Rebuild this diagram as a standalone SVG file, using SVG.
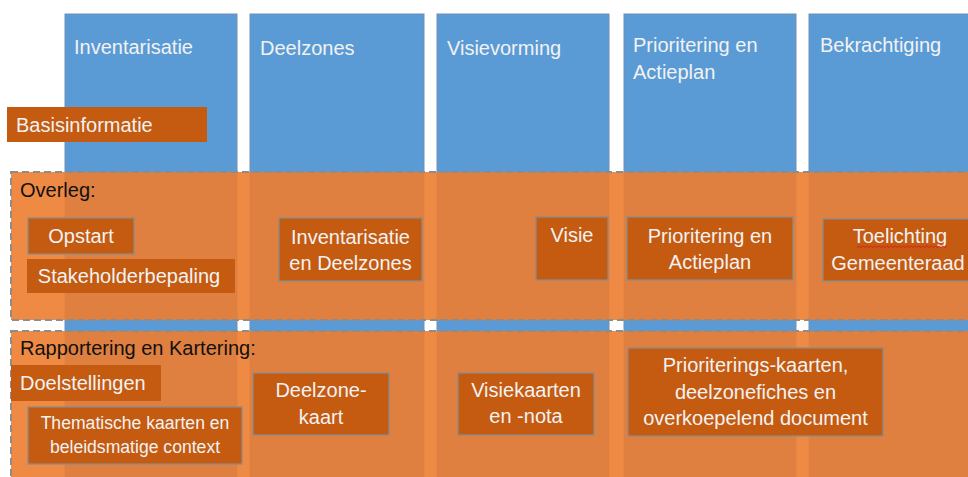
<svg xmlns="http://www.w3.org/2000/svg" width="968" height="477" viewBox="0 0 968 477">
<style>
  text { font-family: "Liberation Sans", Arial, sans-serif; font-size: 20px; }
  .col { fill: #5B9BD5; stroke: #6E8FB4; stroke-width: 1; }
  .hdr { fill: #F2F2F2; }
  .band { fill: #ED7D31; fill-opacity: 0.9; stroke: #8C8C8C; stroke-width: 2; stroke-dasharray: 7 4; }
  .lbl { fill: #111111; }
  .box { fill: #C55A11; stroke: #8C8C8C; stroke-width: 1.3; }
  .boxn { fill: #C55A11; }
  .bt { fill: #F2F2F2; }
  .c { text-anchor: middle; }
  .sm { font-size: 17.6px; }
</style>
<rect width="968" height="477" fill="#FFFFFF"/>

<g id="phases">
  <g id="phase-inventarisatie">
    <rect class="col" x="65" y="14" width="172" height="470"/>
    <text class="hdr" x="74" y="54">Inventarisatie</text>
  </g>
  <g id="phase-deelzones">
    <rect class="col" x="250" y="14" width="174" height="470"/>
    <text class="hdr" x="260" y="55">Deelzones</text>
  </g>
  <g id="phase-visievorming">
    <rect class="col" x="437" y="14" width="172" height="470"/>
    <text class="hdr" x="447" y="55">Visievorming</text>
  </g>
  <g id="phase-prioritering">
    <rect class="col" x="624" y="14" width="172" height="470"/>
    <text class="hdr" x="633" y="52">Prioritering en</text>
    <text class="hdr" x="633" y="79">Actieplan</text>
  </g>
  <g id="phase-bekrachtiging">
    <rect class="col" x="809" y="14" width="175" height="470"/>
    <text class="hdr" x="820" y="52">Bekrachtiging</text>
  </g>
</g>

<g id="basisinformatie">
  <rect class="boxn" x="7" y="107" width="200" height="35"/>
  <text class="bt" x="16" y="132">Basisinformatie</text>
</g>

<g id="band-overleg">
  <rect class="band" x="11" y="172" width="975" height="148"/>
  <text class="lbl" x="20" y="197">Overleg:</text>
</g>

<g id="band-rapportering">
  <rect class="band" x="11" y="331" width="975" height="170"/>
  <text class="lbl" x="20" y="355">Rapportering en Kartering:</text>
</g>

<g id="overleg-items">
  <g id="opstart">
    <rect class="box" x="28" y="218" width="106" height="36"/>
    <text class="bt c" x="81" y="243">Opstart</text>
  </g>
  <g id="stakeholderbepaling">
    <rect class="boxn" x="27" y="259" width="208" height="34"/>
    <text class="bt c" x="129" y="283">Stakeholderbepaling</text>
  </g>
  <g id="overleg-inventarisatie">
    <rect class="box" x="279" y="218" width="143" height="63"/>
    <text class="bt c" x="350.5" y="244">Inventarisatie</text>
    <text class="bt c" x="350.5" y="270">en Deelzones</text>
  </g>
  <g id="overleg-visie">
    <rect class="box" x="536" y="217" width="72" height="63"/>
    <text class="bt c" x="572" y="242">Visie</text>
  </g>
  <g id="overleg-prioritering">
    <rect class="box" x="627" y="217" width="166" height="63"/>
    <text class="bt c" x="710" y="243">Prioritering en</text>
    <text class="bt c" x="710" y="269">Actieplan</text>
  </g>
  <g id="overleg-toelichting">
    <rect class="box" x="823" y="219" width="160" height="62"/>
    <text class="bt c" x="900" y="243">Toelichting</text>
    <text class="bt c" x="898" y="270">Gemeenteraad</text>
    <path d="M857 247.5 l2 -1.5 l2 1.5 l2 -1.5 l2 1.5 l2 -1.5 l2 1.5 l2 -1.5 l2 1.5 l2 -1.5 l2 1.5 l2 -1.5 l2 1.5 l2 -1.5 l2 1.5 l2 -1.5 l2 1.5 l2 -1.5 l2 1.5 l2 -1.5 l2 1.5 l2 -1.5 l2 1.5 l2 -1.5 l2 1.5 l2 -1.5 l2 1.5 l2 -1.5 l2 1.5 l2 -1.5 l2 1.5 l2 -1.5 l2 1.5 l2 -1.5 l2 1.5 l2 -1.5 l2 1.5 l2 -1.5 l2 1.5 l2 -1.5 l2 1.5 l2 -1.5 l2 1.5 l2 -1.5 l2 1.5 l2 -1.5" fill="none" stroke="#E02020" stroke-width="1"/>
  </g>
</g>

<g id="rapportering-items">
  <g id="doelstellingen">
    <rect class="boxn" x="11" y="365" width="150" height="36"/>
    <text class="bt" x="20" y="390">Doelstellingen</text>
  </g>
  <g id="thematische-kaarten">
    <rect class="box" x="28" y="407" width="214" height="57"/>
    <text class="bt c sm" x="135" y="429">Thematische kaarten en</text>
    <text class="bt c sm" x="135" y="453">beleidsmatige context</text>
  </g>
  <g id="deelzonekaart">
    <rect class="box" x="253" y="373" width="136" height="62"/>
    <text class="bt c" x="321" y="397">Deelzone-</text>
    <text class="bt c" x="321" y="424">kaart</text>
  </g>
  <g id="visiekaarten">
    <rect class="box" x="458" y="373" width="136" height="62"/>
    <text class="bt c" x="526" y="397">Visiekaarten</text>
    <text class="bt c" x="526" y="423">en -nota</text>
  </g>
  <g id="prioriteringskaarten">
    <rect class="box" x="628" y="348" width="255" height="88"/>
    <text class="bt c" x="755.5" y="372">Prioriterings-kaarten,</text>
    <text class="bt c" x="755.5" y="399">deelzonefiches en</text>
    <text class="bt c" x="755.5" y="425">overkoepelend document</text>
  </g>
</g>

<g id="connectors"></g>
</svg>
